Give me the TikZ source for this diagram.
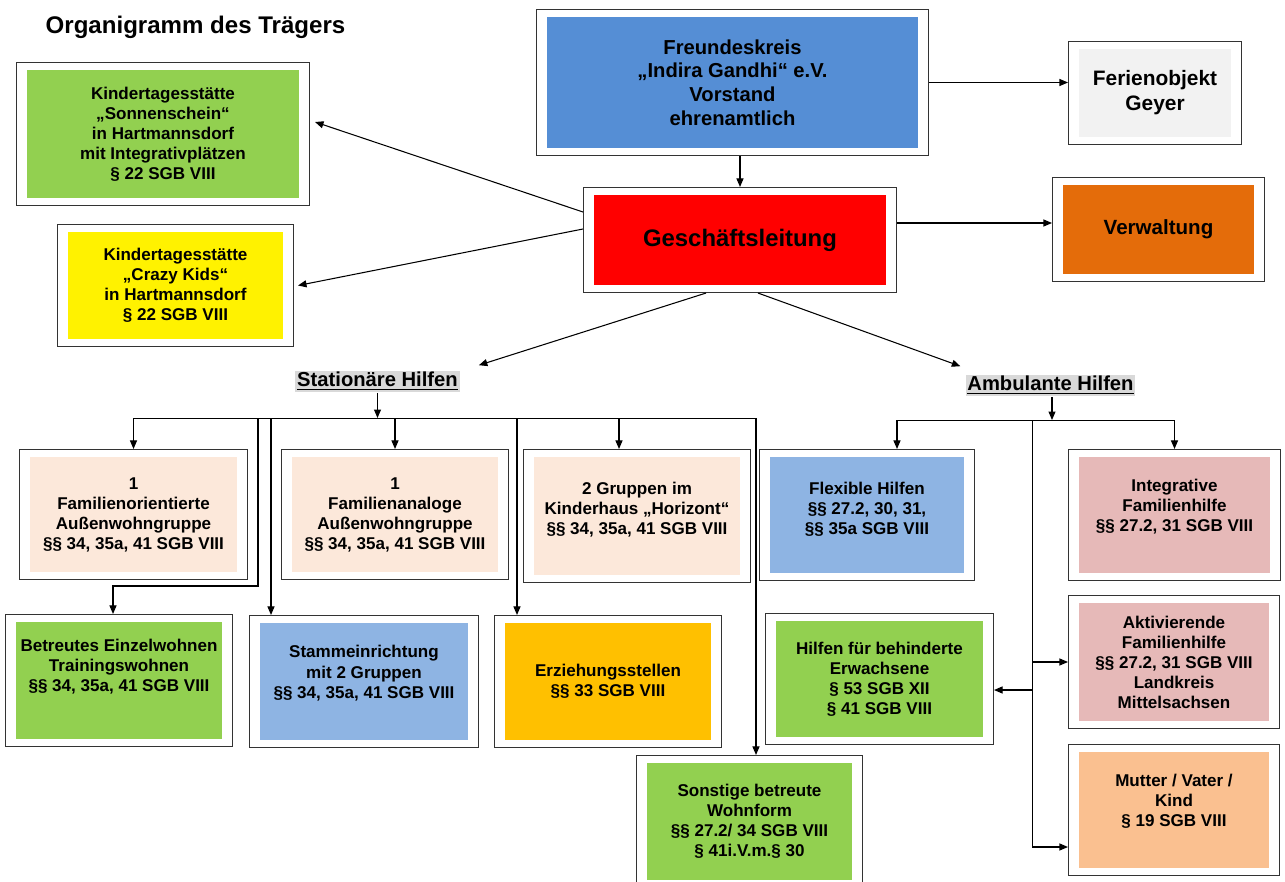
\documentclass[tikz,border=0pt]{standalone}
\usepackage{fontspec}
\setmainfont{Liberation Sans}
\usetikzlibrary{positioning,fit,arrows.meta}

\definecolor{vblue}{HTML}{558ED5}
\definecolor{lblue}{HTML}{8EB4E3}
\definecolor{fgrey}{HTML}{F2F2F2}
\definecolor{vorange}{HTML}{E46C0A}
\definecolor{kgreen}{HTML}{92D050}
\definecolor{peach}{HTML}{FCE8DA}
\definecolor{rose}{HTML}{E6B9B8}
\definecolor{amber}{HTML}{FFC000}
\definecolor{apricot}{HTML}{FAC090}

\tikzset{
  inbox/.style={fill=#1, minimum width=4.12cm, minimum height=2.32cm, inner sep=0pt,
    align=center, font=\bfseries\fontsize{9.7}{11.4}\selectfont},
  frame/.style={draw=black!80, line width=0.8pt, inner xsep=0.2cm, inner ysep=0.14cm},
  arr/.style={-{Triangle[length=0.17cm,width=0.14cm]}, line width=0.6pt},
  head/.style={fill=black!15, inner sep=1pt, font=\bfseries\fontsize{11.5}{13}\selectfont},
  lift/.style={text depth=#1},
}

\begin{document}
\begin{tikzpicture}[x=0.02cm,y=-0.02cm]
\useasboundingbox (0,0) rectangle (1285,882);
\node[font=\bfseries\fontsize{13.7}{16}\selectfont] (title) at (195.5,27) {Organigramm des Trägers};

% Leitung
\node[inbox=vblue, minimum width=7.42cm, minimum height=2.62cm, font=\bfseries\fontsize{11.5}{13.5}\selectfont]
  (vorstand-in) at (732.5,82.5) {Freundeskreis\\„Indira Gandhi“ e.V.\\Vorstand\\ehrenamtlich};
\node[inbox=fgrey, minimum width=3.04cm, minimum height=1.76cm, font=\bfseries\fontsize{11.9}{14.2}\selectfont]
  (ferien-in) at (1155,93) {Ferienobjekt\\Geyer};
\node[inbox=red, minimum width=5.84cm, minimum height=1.8cm, font=\bfseries\fontsize{13.6}{16}\selectfont]
  (gl-in) at (740,240) {Geschäftsleitung};
\node[inbox=vorange, minimum width=3.82cm, minimum height=1.78cm, font=\bfseries\fontsize{11.7}{14}\selectfont]
  (verwaltung-in) at (1158.5,229.5) {Verwaltung};
\node[inbox=kgreen, minimum width=5.44cm, minimum height=2.56cm] (sonnen-in) at (163,134)
  {Kindertagesstätte\\„Sonnenschein“\\in Hartmannsdorf\\mit Integrativplätzen\\§ 22 SGB VIII};
\node[inbox=yellow, minimum width=4.3cm, minimum height=2.14cm] (crazy-in) at (175.5,285.5)
  {Kindertagesstätte\\„Crazy Kids“\\in Hartmannsdorf\\§ 22 SGB VIII};

% Stationaere Hilfen
\node[inbox=peach, minimum width=4.14cm, minimum height=2.3cm] (famor-in) at (133.5,514.5)
  {1\\Familienorientierte\\Außenwohngruppe\\§§ 34, 35a, 41 SGB VIII};
\node[inbox=peach, minimum height=2.3cm] (famanalog-in) at (395,514.5)
  {1\\Familienanaloge\\Außenwohngruppe\\§§ 34, 35a, 41 SGB VIII};
\node[inbox=peach, minimum height=2.36cm, lift=8.8pt] (horizont-in) at (637,516)
  {2 Gruppen im\\Kinderhaus „Horizont“\\§§ 34, 35a, 41 SGB VIII};
\node[inbox=kgreen, minimum height=2.34cm, lift=16.8pt] (betr-in) at (119,680.5)
  {Betreutes Einzelwohnen\\Trainingswohnen\\§§ 34, 35a, 41 SGB VIII};
\node[inbox=lblue, minimum width=4.16cm, minimum height=2.34cm, lift=11pt] (stamm-in) at (364,681.5)
  {Stammeinrichtung\\mit 2 Gruppen\\§§ 34, 35a, 41 SGB VIII};
\node[inbox=amber, minimum height=2.34cm] (erz-in) at (608,681.5)
  {Erziehungsstellen\\§§ 33 SGB VIII};
\node[inbox=kgreen, minimum width=4.1cm, minimum height=2.34cm] (sonst-in) at (749.5,821.5)
  {Sonstige betreute\\Wohnform\\§§ 27.2/ 34 SGB VIII\\§ 41i.V.m.§ 30};

% Ambulante Hilfen
\node[inbox=lblue, minimum width=3.88cm, lift=7.7pt] (flex-in) at (867,515)
  {Flexible Hilfen\\§§ 27.2, 30, 31,\\§§ 35a SGB VIII};
\node[inbox=rose, minimum width=3.82cm, lift=11pt] (integ-in) at (1174.5,515)
  {Integrative\\Familienhilfe\\§§ 27.2, 31 SGB VIII};
\node[inbox=kgreen, minimum width=4.14cm] (hilfen-in) at (879.5,679)
  {Hilfen für behinderte\\Erwachsene\\§ 53 SGB XII\\§ 41 SGB VIII};
\node[inbox=rose, minimum width=3.8cm, minimum height=2.36cm] (aktiv-in) at (1174,662)
  {Aktivierende\\Familienhilfe\\§§ 27.2, 31 SGB VIII\\Landkreis\\Mittelsachsen};
\node[inbox=apricot, minimum width=3.8cm, lift=11pt] (mutter-in) at (1174,810)
  {Mutter / Vater /\\Kind\\§ 19 SGB VIII};

\foreach \n in {vorstand,ferien,gl,verwaltung,sonnen,crazy,famor,famanalog,horizont,
  betr,stamm,erz,sonst,flex,integ,hilfen,aktiv,mutter}
  \node[frame, fit=(\n-in)] (\n) {};

\node[head] (stat) at (377.5,381.5) {\underline{Stationäre Hilfen}};
\node[head] (amb) at (1050.5,385.5) {\underline{Ambulante Hilfen}};

\draw[arr] (gl.north |- vorstand.south) -- (gl.north);
\draw[arr] (vorstand.east) -- (vorstand.east -| ferien.west);
\draw[arr] ([yshift=0.34cm]gl.east) -- ([yshift=0.34cm]gl.east -| verwaltung.west);
\draw[arr] ([yshift=0.56cm]gl.west) -- ([xshift=0.1cm,yshift=0.24cm]sonnen.east);
\draw[arr] ([yshift=0.22cm]gl.west) -- ([xshift=0.08cm]crazy.east);
\draw[arr] ([xshift=-0.68cm]gl.south) -- ([xshift=0.38cm,yshift=0.1cm]stat.north east);
\draw[arr] ([xshift=0.36cm]gl.south) -- ([xshift=-0.1cm,yshift=0.16cm]amb.north west);

% Verteiler stationaer
\coordinate (sbus) at (376,418);
\coordinate (sj1) at (258,418);
\coordinate (sj2) at (271,418);
\coordinate (sj3) at (517,418);
\coordinate (sj4) at (756,418);
\coordinate (sj5) at (619,418);
\coordinate (sk1) at (258,586);
\coordinate (sk2) at (113,586);
\draw[arr] (stat.south) -- (stat.south |- sbus);
\draw (famor.north |- sbus) -- (sj4);
\draw[arr] (famor.north |- sbus) -- (famor.north);
\draw[arr] (famanalog.north |- sbus) -- (famanalog.north);
\draw[arr] (sj5) -- (sj5 |- horizont.north);
\draw[arr] (sj1) -- (sk1) -- (sk2) -- (sk2 |- betr.north);
\draw[arr] (sj2) -- (sj2 |- stamm.north);
\draw[arr] (sj3) -- (sj3 |- erz.north);
\draw[arr] (sj4) -- (sj4 |- sonst.north);

% Verteiler ambulant
\coordinate (abus) at (1052,420);
\coordinate (aj1) at (897,420);
\coordinate (aj2) at (1032,420);
\coordinate (ak1) at (1032,690);
\coordinate (ak2) at (1032,847);
\draw[arr] (amb.south -| abus) -- (abus);
\draw (aj1) -- (integ.north |- abus);
\draw[arr] (aj1) -- (aj1 |- flex.north);
\draw[arr] (integ.north |- abus) -- (integ.north);
\draw (aj2) -- (ak2);
\draw[arr] (ak1) -- (ak1 -| hilfen.east);
\draw[arr] (aktiv.west -| aj2) -- (aktiv.west);
\draw[arr] (ak2) -- (ak2 -| mutter.west);
\end{tikzpicture}
\end{document}
